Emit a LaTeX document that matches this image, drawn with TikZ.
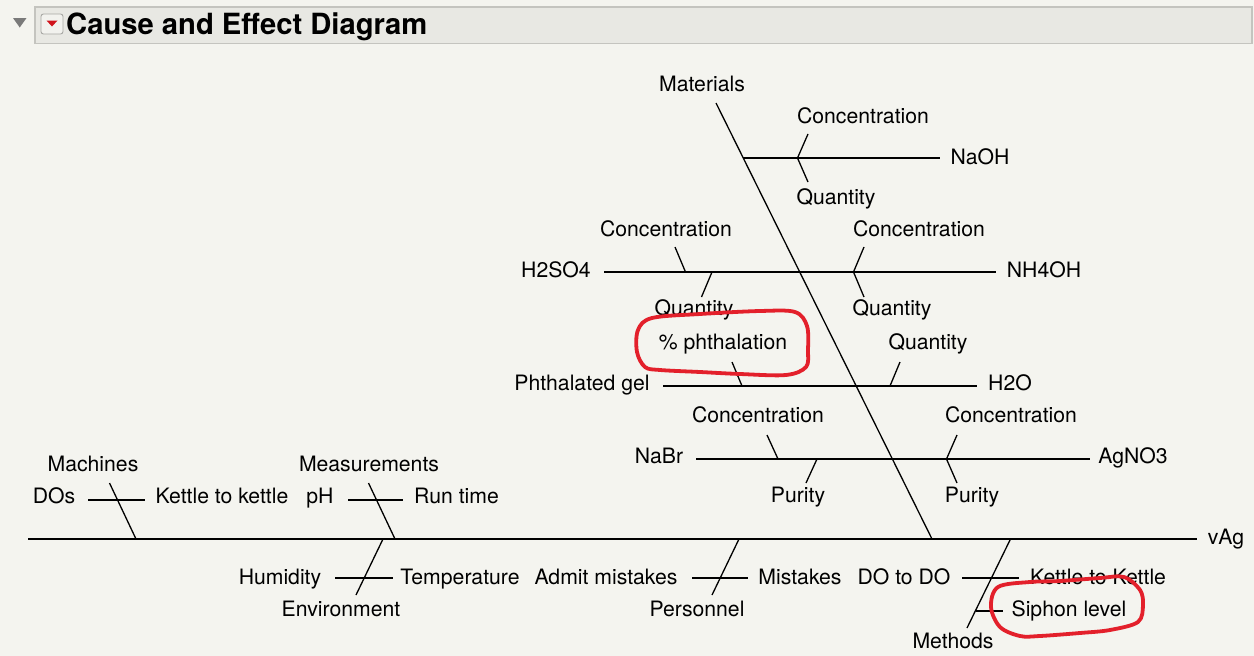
\documentclass[tikz,border=0pt]{standalone}
\usepackage{fontspec}
\setmainfont{TeX Gyre Heros}
\definecolor{bgc}{HTML}{F4F4EF}
\definecolor{hdrfill}{HTML}{E8E8E3}
\definecolor{hdrborder}{HTML}{C4C4BF}
\definecolor{trigray}{HTML}{7A7A7A}
\definecolor{iconborder}{HTML}{A8A8A4}
\definecolor{iconfill}{HTML}{F2F2EE}
\definecolor{iconred}{HTML}{D0131B}
\definecolor{penred}{HTML}{E3202B}
\begin{document}
\begin{tikzpicture}[x=1pt,y=-1pt,
  lbl/.style={font=\fontsize{21.2}{24}\selectfont, inner sep=0pt, anchor=base},
  bone/.style={line width=1.3pt, draw=black},
  redpen/.style={line width=3.8pt, draw=penred, line cap=round, line join=round}]
\fill[bgc] (0,0) rectangle (1254,656);
\useasboundingbox (0,0) rectangle (1254,656);
% header
\draw[hdrborder, fill=hdrfill, line width=1.2pt] (35,7) rectangle (1252,43.5);
\fill[trigray] (13,18) -- (26.5,18) -- (19.75,27.5) -- cycle;
\draw[rounded corners=2.5pt, draw=iconborder, fill=iconfill, line width=0.9pt] (41,14) rectangle (63,34);
\fill[iconred] (46.5,20.5) -- (57.5,20.5) -- (52,26.5) -- cycle;
\node[anchor=base west, font=\fontsize{29.2}{31}\selectfont\bfseries, inner sep=0pt] (title) at (66,34) {Cause and Effect Diagram};

% spine and main bones
\coordinate (spL) at (28,539);
\coordinate (spR) at (1197,539);
\draw[bone] (spL) -- (spR);
\coordinate (matT) at (716,103);
\coordinate (matB) at (932,539);
\draw[bone] (matT) -- (matB);
\coordinate (macT) at (109.5,483); \coordinate (macB) at (136,539);
\draw[bone] (macT) -- (macB);
\coordinate (meaT) at (368.5,483); \coordinate (meaB) at (395,539);
\draw[bone] (meaT) -- (meaB);
\coordinate (envT) at (383,539); \coordinate (envB) at (356,595);
\draw[bone] (envT) -- (envB);
\coordinate (perT) at (739,539); \coordinate (perB) at (712,595);
\draw[bone] (perT) -- (perB);
\coordinate (metT) at (1010.5,539); \coordinate (metB) at (967,628);
\draw[bone] (metT) -- (metB);

% sub bones lower / left
\draw[bone] (88,500) -- (145,500);
\draw[bone] (348,500) -- (403,500);
\draw[bone] (335,578) -- (393,578);
\draw[bone] (692,578) -- (748,578);
\draw[bone] (962,578) -- (1019,578);
\draw[bone] (975.5,611) -- (1003,611);

% materials sub bones
\draw[bone] (743.2,158) -- (940,158);
\draw[bone] (808,134) -- (797.5,158) -- (808,182);
\draw[bone] (604,272) -- (996,272);
\draw[bone] (675,247) -- (685.5,272);
\draw[bone] (712,272) -- (701.5,297);
\draw[bone] (864,247) -- (853.5,272) -- (864,297);
\draw[bone] (663,386) -- (977,386);
\draw[bone] (732,362) -- (742,386);
\draw[bone] (900,362) -- (890,386);
\draw[bone] (696,459) -- (1090,459);
\draw[bone] (767,435) -- (778,459);
\draw[bone] (817,459) -- (806,483);
\draw[bone] (957,435) -- (946.5,459) -- (957,483);

% labels
\node[lbl] (lMat) at (702,91) {Materials};
\node[lbl] (lC1) at (863,123.5) {Concentration};
\node[lbl] (lNaOH) at (980,164) {NaOH};
\node[lbl] (lQ1) at (836,204) {Quantity};
\node[lbl] (lC2) at (666,236.5) {Concentration};
\node[lbl] (lC3) at (919,236.5) {Concentration};
\node[lbl] (lH2SO4) at (556,277.5) {H2SO4};
\node[lbl] (lNH4OH) at (1044,277.5) {NH4OH};
\node[lbl] (lQ2) at (694,315.5) {Quantity};
\node[lbl] (lQ3) at (892,315.5) {Quantity};
\node[lbl] (lPh) at (723,349.5) {\% phthalation};
\node[lbl] (lQ4) at (928,349.5) {Quantity};
\node[lbl] (lPg) at (582,390) {Phthalated gel};
\node[lbl] (lH2O) at (1010,390) {H2O};
\node[lbl] (lC4) at (758,422) {Concentration};
\node[lbl] (lC5) at (1011,422) {Concentration};
\node[lbl] (lNaBr) at (659,463) {NaBr};
\node[lbl] (lAg) at (1133,463) {AgNO3};
\node[lbl] (lP1) at (798,502.5) {Purity};
\node[lbl] (lP2) at (972,502.5) {Purity};
\node[lbl] (lMac) at (93,471) {Machines};
\node[lbl] (lDOs) at (54,503.5) {DOs};
\node[lbl] (lKk) at (222,503.5) {Kettle to kettle};
\node[lbl] (lMea) at (369,471) {Measurements};
\node[lbl] (lpH) at (320,503.5) {pH};
\node[lbl] (lRt) at (456.5,503.5) {Run time};
\node[lbl] (lvAg) at (1226,544.5) {vAg};
\node[lbl] (lHum) at (280,584) {Humidity};
\node[lbl] (lTemp) at (460,584) {Temperature};
\node[lbl] (lEnv) at (341,616) {Environment};
\node[lbl] (lAdm) at (606,584) {Admit mistakes};
\node[lbl] (lMis) at (800,584) {Mistakes};
\node[lbl] (lPer) at (697,616) {Personnel};
\node[lbl] (lDO) at (904,584) {DO to DO};
\node[lbl] (lKK) at (1098,584) {Kettle to Kettle};
\node[lbl] (lSip) at (1069,616) {Siphon level};
\node[lbl] (lMet) at (953,648) {Methods};

% red hand-drawn loops
\draw[redpen] plot[smooth cycle, tension=0.55] coordinates {(652,318) (700,314) (760,311) (795,312) (807,326) (808,350) (806,367) (786,375) (740,374) (700,372) (660,370) (645,367) (637,352) (638,330)};
\draw[redpen] plot[smooth cycle, tension=0.55] coordinates {(998,587) (1030,582) (1060,581) (1100,578) (1124,577) (1140,590) (1143,605) (1138,622) (1110,630) (1080,633) (1040,636) (1020,636) (1000,627) (991,607)};
\end{tikzpicture}
\end{document}
